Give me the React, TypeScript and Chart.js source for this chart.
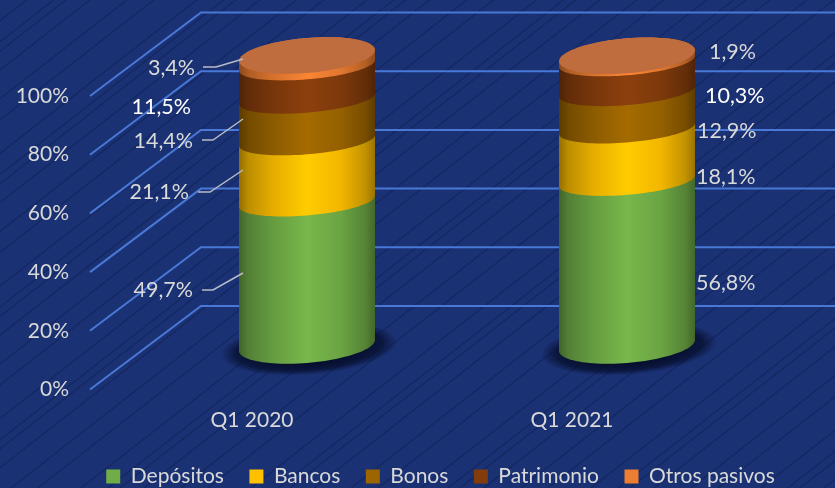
import React, { useEffect, useRef } from "react";
import { Chart, registerables } from "chart.js";

Chart.register(...registerables);

const categories = ["Q1 2020", "Q1 2021"];
const depositos = [49.7, 56.8];
const bancos = [21.1, 18.1];
const bonos = [14.4, 12.9];
const patrimonio = [11.5, 10.3];
const otros = [3.4, 1.9];

const seriesNames = ["Depósitos", "Bancos", "Bonos", "Patrimonio", "Otros pasivos"];
const seriesValues = [depositos, bancos, bonos, patrimonio, otros];
const seriesColors = ["#70AD47", "#FFC000", "#9C6500", "#843C0C", "#ED7D31"];
const yTicks = [0, 20, 40, 60, 80, 100];

const TEXT = "#D9D9D9";
const FONT = "Lato";

const labelLeft: [number, number, string][] = [
  [195, 68, TEXT], [191, 107, "#FFFFFF"], [193, 141, TEXT], [189, 192, TEXT], [193, 290, TEXT],
];
const labelRight: [number, number, string][] = [
  [709, 52, TEXT], [705, 96, "#FFFFFF"], [697, 131, TEXT], [696, 177, TEXT], [696, 283, TEXT],
];
const leaders: number[][] = [
  [203, 67, 216, 67, 243, 59],
  [202, 140, 213, 140, 243, 119],
  [198, 192, 210, 192, 243, 170],
  [202, 290, 213, 290, 243, 273],
];

const hatchOffsets = [0, 24, 61, 88, 131, 158];

function shade(hex: string, f: number) {
  const n = parseInt(hex.slice(1), 16);
  const c = (v: number) => Math.min(255, Math.round(v * f));
  return `rgb(${c((n >> 16) & 255)},${c((n >> 8) & 255)},${c(n & 255)})`;
}

const TILT = 5.5;
function ryAt(y: number) {
  return 14 + Math.max(0, y - 200) * (3.6 / 144);
}

function arc(ctx: CanvasRenderingContext2D, cx: number, yc: number, a: number, ry: number, from: number, to: number, first: boolean) {
  const n = 48;
  for (let i = 0; i <= n; i++) {
    const p = from + ((to - from) * i) / n;
    const x = cx + a * Math.cos(p);
    const y = yc - TILT * Math.cos(p) + ry * Math.sin(p);
    if (i === 0 && first) ctx.moveTo(x, y);
    else ctx.lineTo(x, y);
  }
}

const cylinderPlugin = {
  id: "cylinder3d",
  beforeDraw(chart: any) {
    const { ctx, width, height } = chart;
    ctx.save();
    ctx.fillStyle = "#1A3173";
    ctx.fillRect(0, 0, width, height);
    ctx.strokeStyle = "rgba(12,26,72,0.42)";
    ctx.lineWidth = 1.2;
    for (let base = -200; base < width + 800; base += 170) {
      for (const o of hatchOffsets) {
        const x0 = base + o;
        ctx.beginPath();
        ctx.moveTo(x0 - 700, height);
        ctx.lineTo(x0, height - 700 * 0.78);
        ctx.stroke();
      }
    }
    ctx.restore();
  },
  afterLayout(chart: any) {
    const lg = chart.legend;
    if (lg) {
      lg.left += 47;
      lg.right += 47;
      lg.top = 440.5;
      lg.bottom = 440.5 + lg.height;
    }
  },
  beforeDatasetsDraw(chart: any) {
    const { ctx, scales } = chart;
    ctx.save();
    ctx.strokeStyle = "#4A78D6";
    ctx.lineWidth = 2;
    for (const v of yTicks) {
      const y = scales.y.getPixelForValue(v);
      ctx.beginPath();
      ctx.moveTo(90, y);
      ctx.lineTo(201, y - 83.5);
      ctx.lineTo(chart.width, y - 83.5);
      ctx.stroke();
    }
    ctx.restore();
  },
  beforeDatasetDraw() {
    return false;
  },
  afterDatasetsDraw(chart: any) {
    const { ctx } = chart;
    ctx.save();
    const catCount = categories.length;
    for (let c = 0; c < catCount; c++) {
      const firstBar = chart.getDatasetMeta(0).data[c];
      const cx = firstBar.x;
      const a = firstBar.width / 2;
      const by = firstBar.base;

      // floor shadow
      ctx.save();
      ctx.translate(cx + 2, by + 3);
      ctx.rotate(-0.08);
      ctx.scale(1, 0.3);
      const sg = ctx.createRadialGradient(0, 0, a * 0.8, 0, 0, a * 1.3);
      sg.addColorStop(0, "rgba(6,14,44,0.95)");
      sg.addColorStop(0.55, "rgba(6,14,44,0.75)");
      sg.addColorStop(1, "rgba(6,14,44,0)");
      ctx.fillStyle = sg;
      ctx.beginPath();
      ctx.arc(0, 0, a * 1.3, 0, Math.PI * 2);
      ctx.fill();
      ctx.restore();

      for (let s = 0; s < seriesValues.length; s++) {
        const bar = chart.getDatasetMeta(s).data[c];
        const yb = bar.base;
        const isTop = s === seriesValues.length - 1;
        const yt = bar.y;
        const g = ctx.createLinearGradient(cx - a, 0, cx + a, 0);
        const col = seriesColors[s];
        const stops: [number, number][] = [[0, 0.58], [0.07, 0.74], [0.25, 0.9], [0.5, 1.06], [0.75, 0.95], [0.93, 0.76], [1, 0.6]];
        for (const [p, f] of stops) g.addColorStop(p, shade(col, f));
        ctx.fillStyle = g;
        ctx.beginPath();
        arc(ctx, cx, yb, a, ryAt(yb), Math.PI, 0, true);
        const capRy = isTop ? 17.5 : ryAt(yt);
        arc(ctx, cx, yt, a, capRy, 0, -Math.PI, false);
        ctx.closePath();
        ctx.fill();
        if (isTop) {
          ctx.fillStyle = "#BF6C3E";
          ctx.beginPath();
          arc(ctx, cx, yt, a, capRy, 0, Math.PI * 2, true);
          ctx.closePath();
          ctx.fill();
        }
      }
    }

    // data labels
    ctx.font = `21.5px ${FONT}`;
    ctx.textBaseline = "middle";
    const fmt = (v: number) => v.toFixed(1).replace(".", ",") + "%";
    seriesValues.forEach((vals, s) => {
      const i = seriesValues.length - 1 - s;
      const [lx, ly, lc] = labelLeft[i];
      ctx.fillStyle = lc;
      ctx.textAlign = "right";
      ctx.fillText(fmt(vals[0]), lx, ly);
      const [rx, ry, rc] = labelRight[i];
      ctx.fillStyle = rc;
      ctx.textAlign = "left";
      ctx.fillText(fmt(vals[1]), rx, ry);
    });

    // leader lines
    ctx.strokeStyle = "#B8BCC6";
    ctx.lineWidth = 1.5;
    for (const l of leaders) {
      ctx.beginPath();
      ctx.moveTo(l[0], l[1]);
      ctx.lineTo(l[2], l[3]);
      ctx.lineTo(l[4], l[5]);
      ctx.stroke();
    }
    ctx.restore();
  },
};

export default function App() {
  const ref = useRef<HTMLCanvasElement>(null);
  useEffect(() => {
    document.body.style.margin = "0";
    const chart = new Chart(ref.current!, {
      type: "bar",
      data: {
        labels: categories,
        datasets: seriesNames.map((name, i) => ({
          label: name,
          data: seriesValues[i],
          backgroundColor: seriesColors[i],
          borderWidth: 0,
          yAxisID: "y2",
          stack: "s",
          barPercentage: 0.425,
          categoryPercentage: 1,
          clip: false as any,
        })),
      },
      options: {
        responsive: false,
        animation: false,
        layout: { padding: { left: 0, right: 48, top: 96, bottom: -3 } },
        scales: {
          x: {
            stacked: true,
            border: { display: false },
            grid: { display: false, drawTicks: false },
            afterFit: (s: any) => { s.height = 45; },
            ticks: {
              color: TEXT,
              padding: 18,
              labelOffset: -55,
              maxRotation: 0,
              font: { family: FONT, size: 21 },
            },
          },
          y: {
            min: 0,
            max: 100,
            border: { display: false },
            grid: { display: false, drawTicks: false },
            afterFit: (s: any) => { s.width = 147; },
            ticks: {
              stepSize: 20,
              padding: 78,
              color: TEXT,
              font: { family: FONT, size: 21 },
              callback: (v: any) => v + "%",
            },
          },
          y2: {
            display: false,
            stacked: true,
            min: -15.28,
            max: 86.11,
          },
        },
        plugins: {
          tooltip: { enabled: false },
          legend: {
            position: "bottom",
            labels: {
              boxWidth: 14,
              boxHeight: 14,
              padding: 25.5,
              color: TEXT,
              font: { family: FONT, size: 21 },
            },
          },
        },
      },
      plugins: [cylinderPlugin],
    } as any);
    return () => chart.destroy();
  }, []);
  return (
    <div style={{ position: "absolute", left: 0, top: 0, width: 835, height: 488 }}>
      <canvas ref={ref} width={835} height={488} style={{ display: "block" }} />
    </div>
  );
}
